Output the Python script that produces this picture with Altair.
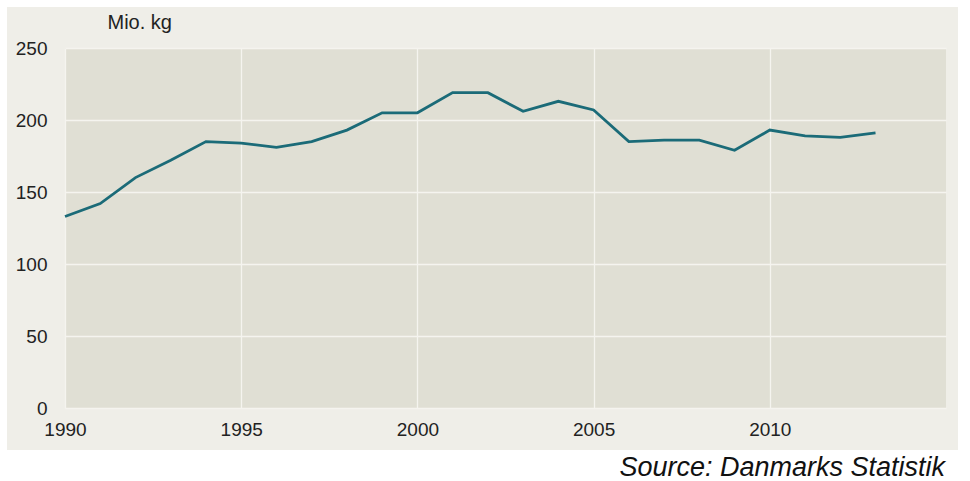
import altair as alt
import pandas as pd

years = list(range(1990, 2014))
values = [133, 142, 160, 172, 185, 184, 181, 185, 193, 205, 205, 219,
          219, 206, 213, 207, 185, 186, 186, 179, 193, 189, 188, 191]
x_ticks = [1990, 1995, 2000, 2005, 2010]
y_ticks = [0, 50, 100, 150, 200, 250]

df = pd.DataFrame({"year": years, "value": values})

W, H = 881, 360
FONT = "Liberation Sans"

dummy = pd.DataFrame({"a": [0]})


def white_strip(x1, x2, y1, y2):
    return alt.Chart(dummy).mark_rect(color="white").encode(
        x=alt.value(x1), x2=alt.value(x2), y=alt.value(y1), y2=alt.value(y2)
    )


strips = [
    white_strip(-65, 905, -48, -41),   # top
    white_strip(-65, -58, -48, 433),   # left
    white_strip(893, 905, -48, 433),   # right
    white_strip(-65, 905, 402, 433),   # bottom
]

line = alt.Chart(df).mark_line(color="#1b6b78", strokeWidth=2.8).encode(
    x=alt.X("year:Q", scale=alt.Scale(domain=[1990, 2015], nice=False),
            axis=alt.Axis(values=x_ticks, format="d", title=None, ticks=False,
                          domain=False, labelPadding=12, labelFontSize=19,
                          labelFlush=False,
                          labelFont=FONT, labelColor="#222222",
                          gridColor="#f5f4ef", gridWidth=1.3)),
    y=alt.Y("value:Q", scale=alt.Scale(domain=[0, 250], nice=False),
            axis=alt.Axis(values=y_ticks, title="Mio. kg", titleAngle=0,
                          titleX=42, titleY=-26, titleAlign="left",
                          titleBaseline="middle", titleFontSize=20,
                          titleFont=FONT, titleFontWeight="normal",
                          titleColor="#222222", ticks=False, domain=False,
                          labelPadding=18, labelFontSize=19, labelFont=FONT,
                          labelColor="#222222", gridColor="#f5f4ef",
                          gridWidth=1.3)),
)

source = alt.Chart(pd.DataFrame({"t": ["Source: Danmarks Statistik"]})).mark_text(
    align="right", baseline="middle", fontSize=27, fontStyle="italic",
    font=FONT, color="#111111"
).encode(x=alt.value(880), y=alt.value(420), text="t:N")

chart = alt.layer(*strips, line, source).properties(
    width=W, height=H,
    autosize=alt.AutoSizeParams(type="none"),
    padding={"left": 65, "top": 48, "right": 24, "bottom": 73},
    background="#efeee8",
).configure_view(fill="#e0dfd4", stroke=None)

chart.save("out.html", embed_options={"renderer": "svg", "actions": False})
